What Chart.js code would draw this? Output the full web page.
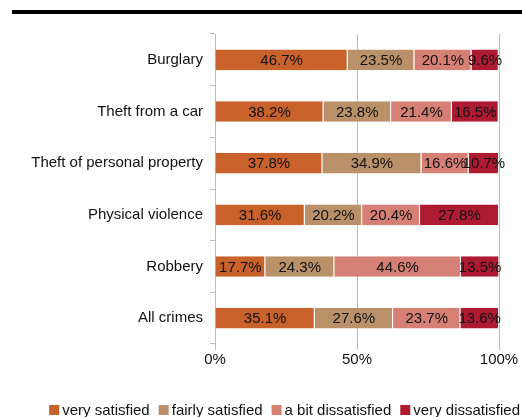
<!DOCTYPE html>
<html>
<head>
<meta charset="utf-8">
<script src="https://cdn.jsdelivr.net/npm/chart.js@4"></script>
<style>
    html, body { margin: 0; padding: 0; background: #fff; }
    #wrap { width: 522px; height: 417px; }
</style>
</head>
<body>
<div id="wrap"><canvas id="satisfaction_by_crime"></canvas></div>
<script>
/* global Chart */

const crimes = [
    "Burglary",
    "Theft from a car",
    "Theft of personal property",
    "Physical violence",
    "Robbery",
    "All crimes",
];

const very_satisfied = [46.7, 38.2, 37.8, 31.6, 17.7, 35.1];
const fairly_satisfied = [23.5, 23.8, 34.9, 20.2, 24.3, 27.6];
const bit_dissatisfied = [20.1, 21.4, 16.6, 20.4, 44.6, 23.7];
const very_dissatisfied = [9.6, 16.5, 10.7, 27.8, 13.5, 13.6];

const x_ticks = [0, 50, 100];

const FONT = "'Liberation Sans', Arial, sans-serif";
const AXIS_GREY = "#bdbdbd";

function makeSet(label, data, color) {
    return {
        label: label,
        data: data,
        backgroundColor: color,
        borderColor: "#ffffff",
        borderWidth: { left: 0, right: 1, top: 0, bottom: 0 },
        borderSkipped: false,
        barPercentage: 0.4,
        categoryPercentage: 1,
    };
}

// percentage written in the middle of each segment
const segmentLabels = {
    id: "segmentLabels",
    afterDatasetsDraw(chart) {
        const ctx = chart.ctx;
        ctx.save();
        ctx.font = "15px " + FONT;
        ctx.fillStyle = "#111";
        ctx.textAlign = "center";
        ctx.textBaseline = "middle";
        chart.data.datasets.forEach((ds, i) => {
            chart.getDatasetMeta(i).data.forEach((bar, j) => {
                const cx = (bar.x + bar.base) / 2;
                ctx.fillText(ds.data[j].toFixed(1) + "%", cx, bar.y + 1);
            });
        });
        ctx.restore();
    },
};

// heavy rule across the top and the legend row at the bottom
const frame = {
    id: "frame",
    afterDraw(chart) {
        const ctx = chart.ctx;
        ctx.save();
        ctx.fillStyle = "#000";
        ctx.fillRect(12, 10, chart.width - 12, 4);

        ctx.font = "15px " + FONT;
        ctx.textBaseline = "middle";
        const y = chart.height - 7;
        const items = chart.data.datasets.map(ds => ({
            text: ds.label,
            color: ds.backgroundColor,
            w: ctx.measureText(ds.label).width,
        }));
        const total = items.reduce((acc, it) => acc + 10 + 3 + it.w, 0) + 9 * (items.length - 1);
        let x = chart.width - 2 - total;
        items.forEach(it => {
            ctx.fillStyle = it.color;
            ctx.fillRect(x, y - 5, 10, 10);
            ctx.fillStyle = "#111";
            ctx.fillText(it.text, x + 13, y + 1);
            x += 13 + it.w + 9;
        });
        ctx.restore();
    },
};

new Chart(document.getElementById("satisfaction_by_crime"), {
    type: "bar",
    data: {
        labels: crimes,
        datasets: [
            makeSet("very satisfied", very_satisfied, "#c8612a"),
            makeSet("fairly satisfied", fairly_satisfied, "#ba9069"),
            makeSet("a bit dissatisfied", bit_dissatisfied, "#d67f75"),
            makeSet("very dissatisfied", very_dissatisfied, "#ae1a31"),
        ],
    },
    plugins: [segmentLabels, frame],
    options: {
        indexAxis: "y",
        responsive: true,
        maintainAspectRatio: false,
        animation: false,
        layout: {
            padding: { top: 34, right: 23, bottom: 0, left: 0 },
        },
        plugins: {
            legend: { display: false },
            tooltip: { enabled: false },
        },
        scales: {
            x: {
                stacked: true,
                min: 0,
                max: 100,
                afterBuildTicks(scale) {
                    scale.ticks = x_ticks.map(v => ({ value: v }));
                },
                afterFit(scale) {
                    scale.height = 73;
                },
                border: { display: false },
                grid: {
                    color: AXIS_GREY,
                    borderDash: [4, 3],
                    tickLength: 6,
                    tickBorderDash: [],
                },
                ticks: {
                    padding: 1,
                    color: "#111",
                    font: { family: FONT, size: 15 },
                    callback: v => v + "%",
                },
            },
            y: {
                stacked: true,
                afterFit(scale) {
                    scale.width = 215;
                },
                border: { display: true, color: AXIS_GREY, width: 1 },
                grid: {
                    offset: true,
                    drawOnChartArea: false,
                    color: AXIS_GREY,
                    tickLength: 5,
                },
                ticks: {
                    padding: 7,
                    color: "#111",
                    font: { family: FONT, size: 15 },
                },
            },
        },
    },
});
</script>
</body>
</html>
